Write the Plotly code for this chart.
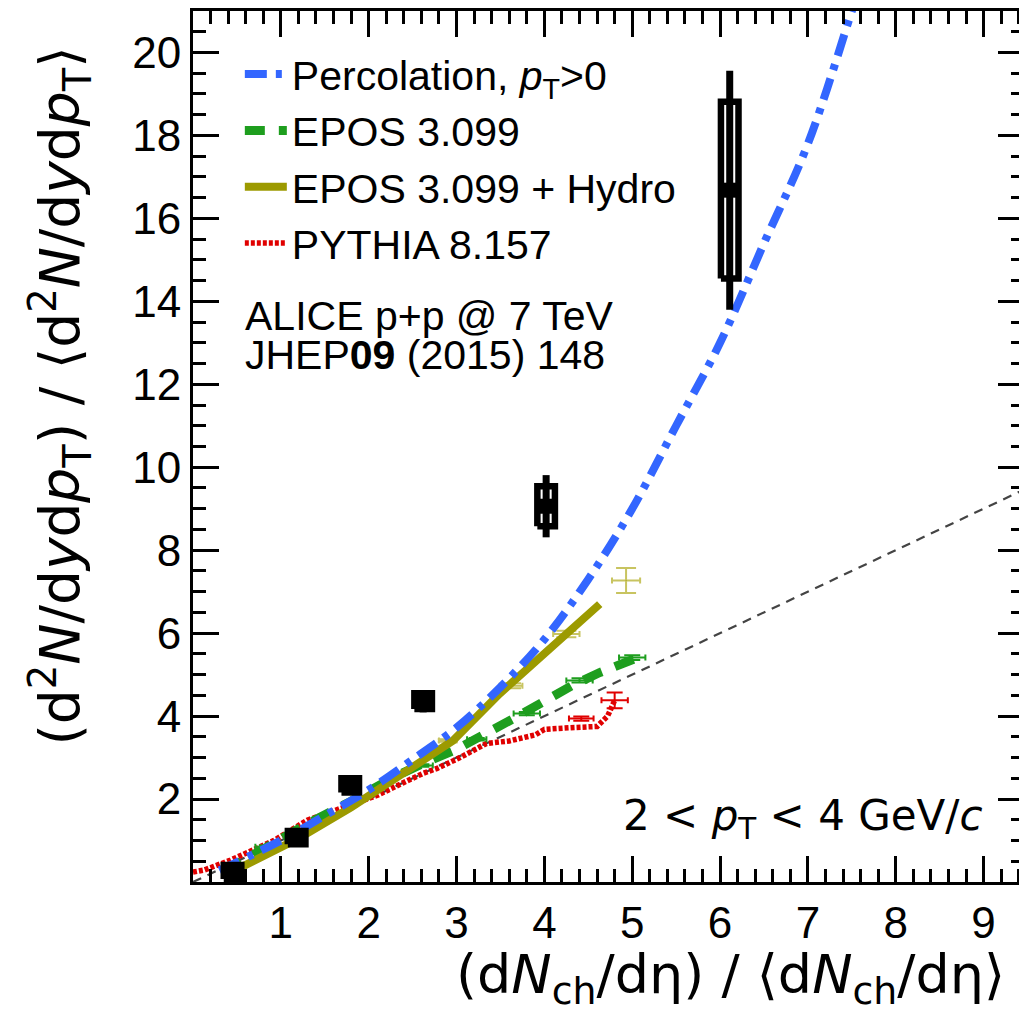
import plotly.graph_objects as go

# ---------------- data ----------------
# ALICE p+p 7 TeV data
data_x = [0.45, 1.18, 1.79, 2.62, 4.02, 6.11]
data_y = [0.24, 1.07, 2.33, 4.36, 9.06, 16.68]
data_stat = [0.10, 0.10, 0.12, 0.27, 0.75, 2.88]
data_sys = [0.17, 0.16, 0.17, 0.19, 0.48, 2.13]

# Percolation, pT>0
perc_x = [0.30, 1.00, 1.50, 2.00, 2.50, 3.00, 3.50, 4.00, 4.50, 5.00, 5.50,
          6.00, 6.50, 7.00, 7.50, 7.65]
perc_y = [0.28, 1.00, 1.60, 2.22, 2.95, 3.72, 4.70, 5.85, 7.30, 9.00, 11.00,
          13.00, 15.40, 17.80, 21.00, 22.00]

# EPOS 3.099 (curve and bin points)
epos_x = [0.35, 0.80, 1.30, 1.80, 2.28, 2.62, 3.00, 3.64, 3.98, 4.32, 4.63, 5.05]
epos_y = [0.25, 0.80, 1.40, 1.95, 2.52, 2.86, 3.20, 3.93, 4.35, 4.74, 5.05, 5.40]
epos_pt_x = [0.84, 2.60, 3.23, 3.80, 4.40, 5.00]
epos_pt_y = [0.85, 2.81, 3.44, 4.06, 4.86, 5.41]
epos_pt_ex = [0.13, 0.13, 0.11, 0.15, 0.15, 0.15]
epos_pt_ey = [0.03, 0.03, 0.03, 0.04, 0.05, 0.06]

# EPOS 3.099 + Hydro (curve and bin points)
hydro_x = [0.55, 1.20, 1.80, 2.28, 2.62, 2.96, 3.49, 4.06, 4.63]
hydro_y = [0.36, 1.05, 1.80, 2.45, 2.90, 3.41, 4.54, 5.65, 6.70]
hydro_pt_x = [2.90, 3.62, 4.25, 4.93]
hydro_pt_y = [3.41, 4.73, 5.98, 7.27]
hydro_pt_ex = [0.10, 0.13, 0.15, 0.16]
hydro_pt_ey = [0.03, 0.06, 0.08, 0.30]

# PYTHIA 8.157 (curve and bin points)
pyth_x = [0.00, 0.13, 0.43, 0.92, 1.30, 1.68, 2.10, 2.40, 2.62, 2.78, 3.04, 3.34,
          3.60, 3.90, 4.00, 4.30, 4.60, 4.72, 4.80]
pyth_y = [0.24, 0.29, 0.53, 1.00, 1.49, 1.78, 2.09, 2.40, 2.62, 2.74, 3.00, 3.34,
          3.40, 3.55, 3.68, 3.72, 3.75, 4.00, 4.38]
pyth_pt_x = [4.42, 4.80]
pyth_pt_y = [3.94, 4.38]
pyth_pt_ex = [0.14, 0.15]
pyth_pt_ey = [0.05, 0.19]

# diagonal reference line
diag_x = [0.0, 9.5]
diag_y = [0.0, 9.5]

x_ticks = [1, 2, 3, 4, 5, 6, 7, 8, 9]
y_ticks = [2, 4, 6, 8, 10, 12, 14, 16, 18, 20]

# ---------------- styles ----------------
FONT = "Liberation Sans, Arial, Helvetica, sans-serif"
WIDE = "DejaVu Sans, Liberation Sans, Arial, sans-serif"
BLUE = "#3366ff"
GREEN = "#1e9e1e"
OLIVE = "#9c9a00"
RED = "#e00000"
BOX_HALF = 0.10

# the page body adds an 8 px offset; plot area on screen: x 193..1027, y 9..882
PX0, PX1, PY0, PY1 = 193, 1027, 9, 882


def px(sx):
    return (sx - PX0) / (PX1 - PX0)


def py(sy):
    return (PY1 - sy) / (PY1 - PY0)


fig = go.Figure()

fig.add_trace(go.Scatter(x=diag_x, y=diag_y, mode="lines", showlegend=False,
                         line=dict(color="#444444", width=2.2, dash="9px,7px"),
                         hoverinfo="skip"))

fig.add_trace(go.Scatter(x=pyth_x, y=pyth_y, mode="lines", name="PYTHIA 8.157",
                         line=dict(color=RED, width=5.5, dash="4px,2px"), legendrank=4))
fig.add_trace(go.Scatter(x=pyth_pt_x, y=pyth_pt_y, mode="markers", showlegend=False,
                         marker=dict(size=1, color=RED),
                         error_x=dict(type="data", array=pyth_pt_ex, color=RED, thickness=2, width=3),
                         error_y=dict(type="data", array=pyth_pt_ey, color=RED, thickness=2, width=8)))

fig.add_trace(go.Scatter(x=epos_pt_x, y=epos_pt_y, mode="markers", showlegend=False,
                         marker=dict(size=1, color=GREEN),
                         error_x=dict(type="data", array=epos_pt_ex, color=GREEN, thickness=2, width=3),
                         error_y=dict(type="data", array=epos_pt_ey, color=GREEN, thickness=2, width=8)))
fig.add_trace(go.Scatter(x=epos_x, y=epos_y, mode="lines", name="EPOS 3.099",
                         line=dict(color=GREEN, width=9, dash="20px,14px"), legendrank=2))

fig.add_trace(go.Scatter(x=hydro_pt_x, y=hydro_pt_y, mode="markers", showlegend=False,
                         marker=dict(size=1, color=OLIVE),
                         error_x=dict(type="data", array=hydro_pt_ex, color="#c8c460", thickness=2, width=3),
                         error_y=dict(type="data", array=hydro_pt_ey, color="#c8c460", thickness=2, width=10)))
fig.add_trace(go.Scatter(x=hydro_x, y=hydro_y, mode="lines", name="EPOS 3.099 + Hydro",
                         line=dict(color=OLIVE, width=8), legendrank=3))

fig.add_trace(go.Scatter(x=perc_x, y=perc_y, mode="lines", name="Percolation, <i>p</i><sub>T</sub>>0",
                         line=dict(color=BLUE, width=8, dash="22px,9px,6px,9px", shape="spline"),
                         legendrank=1))

# systematic boxes of the data
bx, by = [], []
for xv, yv, sv in zip(data_x, data_y, data_sys):
    bx += [xv - BOX_HALF, xv + BOX_HALF, xv + BOX_HALF, xv - BOX_HALF, xv - BOX_HALF, None]
    by += [yv - sv, yv - sv, yv + sv, yv + sv, yv - sv, None]
fig.add_trace(go.Scatter(x=bx, y=by, mode="lines", showlegend=False,
                         line=dict(color="black", width=6.5), hoverinfo="skip"))
fig.add_trace(go.Scatter(x=data_x, y=data_y, mode="markers", showlegend=False,
                         marker=dict(symbol="square", size=15, color="black"),
                         error_y=dict(type="data", array=data_stat, color="black", thickness=7, width=0)))

axis_common = dict(showline=True, linewidth=3, linecolor="black", mirror="ticks",
                   ticks="inside", ticklen=26, tickwidth=2.5, tickcolor="black",
                   showgrid=False, zeroline=False, tickfont=dict(size=44, family=FONT, color="black"))

fig.update_xaxes(range=[0, 9.46], tickmode="array", tickvals=x_ticks,
                 minor=dict(ticks="inside", ticklen=13, tickwidth=2.5, tickcolor="black",
                            dtick=0.2, tick0=0, showgrid=False),
                 **axis_common)
fig.update_yaxes(range=[0, 21], tickmode="array", tickvals=y_ticks,
                 minor=dict(ticks="inside", ticklen=13, tickwidth=2.5, tickcolor="black",
                            dtick=0.5, tick0=0, showgrid=False),
                 **axis_common)

fig.update_layout(
    width=1019, height=1012,
    margin=dict(l=PX0 - 8, r=0, t=PY0 - 8, b=1012 - (PY1 - 8)),
    plot_bgcolor="white", paper_bgcolor="white",
    font=dict(family=FONT, color="black"),
    legend=dict(x=px(240), y=py(39), xanchor="left", yanchor="top",
                bgcolor="rgba(0,0,0,0)", font=dict(size=41, family=FONT, color="black"),
                itemwidth=42, tracegroupgap=0),
    annotations=[
        dict(text="ALICE p+p @ 7 TeV", x=px(243), y=py(315)),
        dict(text="JHEP<b>09</b> (2015) 148", x=px(243), y=py(354)),
        dict(text="2 < <i>p</i><sub>T</sub> < 4 GeV/<i>c</i>", x=px(988), y=py(818),
             xanchor="right", font=dict(size=42, family=WIDE, color="black")),
        dict(text="(d<i>N</i><sub>ch</sub>/dη) / ⟨d<i>N</i><sub>ch</sub>/dη⟩",
             x=px(1010), y=py(978), xanchor="right",
             font=dict(size=54, family=WIDE, color="black")),
        dict(text="(d<sup>2</sup><i>N</i>/d<i>y</i>d<i>p</i><sub>T</sub>) / "
                  "⟨d<sup>2</sup><i>N</i>/d<i>y</i>d<i>p</i><sub>T</sub>⟩",
             x=px(60), y=py(395), xanchor="center", textangle=-90,
             font=dict(size=55, family=WIDE, color="black")),
    ],
)
for a in fig.layout.annotations:
    a.xref = "paper"
    a.yref = "paper"
    a.showarrow = False
    if a.xanchor is None:
        a.xanchor = "left"
    a.yanchor = "middle"
    if a.font.size is None:
        a.font = dict(size=41, family=FONT, color="black")

fig.write_html("out.html")
